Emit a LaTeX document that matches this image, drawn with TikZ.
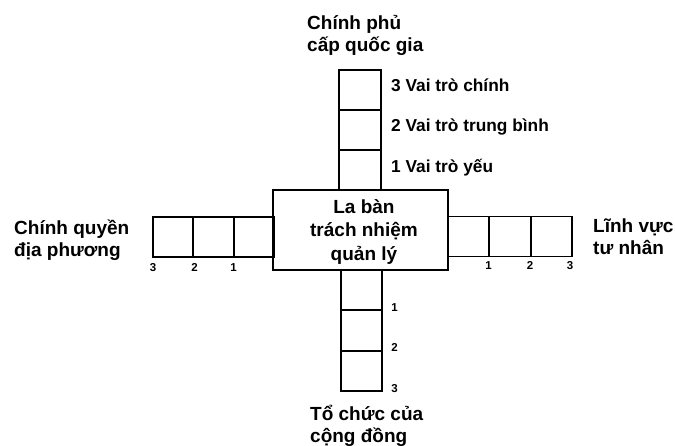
\documentclass[tikz,border=0pt]{standalone}
\usepackage{fontspec}
\setmainfont{Liberation Sans}
\begin{document}
\begin{tikzpicture}[x=1pt,y=-1pt,
  cell/.style={draw, line width=1.8pt, inner sep=0pt},
  vcell/.style={cell, minimum width=42pt, minimum height=40pt},
  hcell/.style={cell, minimum width=40.8pt, minimum height=40pt},
  title/.style={font={\fontsize{19}{22}\selectfont\bfseries}, align=left, inner sep=0pt},
  role/.style={font={\fontsize{17.3}{20}\selectfont\bfseries}, inner sep=0pt, anchor=base west},
  num/.style={font={\fontsize{11.5}{13}\selectfont\bfseries}, inner sep=0pt, anchor=base}]
\useasboundingbox (0,0) rectangle (675,446);
% central box
\node[cell, minimum width=175pt, minimum height=80pt] (compass) at (360.5,230) {};
\node[font={\fontsize{19}{23.5}\selectfont\bfseries}, align=center, inner sep=0pt] (ctext) at (364,232) {La bàn\\trách nhiệm\\quản lý};
% top column
\node[vcell] (t3) at (360,90) {};
\node[vcell] (t2) at (360,130) {};
\node[vcell] (t1) at (360,170) {};
\node[role] (r3) at (391,92) {3 Vai trò chính};
\node[role] (r2) at (391,132) {2 Vai trò trung bình};
\node[role] (r1) at (391,173) {1 Vai trò yếu};
% bottom column
\node[vcell, minimum width=41pt, minimum height=40.3pt] (b1) at (361.5,290.2) {};
\node[vcell, minimum width=41pt, minimum height=40.3pt] (b2) at (361.5,330.5) {};
\node[vcell, minimum width=41pt, minimum height=40.3pt] (b3) at (361.5,370.8) {};
\node[num] (nb1) at (394.5,312) {1};
\node[num] (nb2) at (394.5,352) {2};
\node[num] (nb3) at (394.5,392) {3};
% left row
\node[hcell, minimum width=40.3pt] (l3) at (173.2,237) {};
\node[hcell, minimum width=40.3pt] (l2) at (213.5,237) {};
\node[hcell, minimum width=40.3pt] (l1) at (253.8,237) {};
\node[num] (nl3) at (153,272) {3};
\node[num] (nl2) at (194.5,272) {2};
\node[num] (nl1) at (233.5,272) {1};
% right row
\node[hcell, minimum width=41.3pt] (p1) at (468.7,236.5) {};
\node[hcell, minimum width=41.3pt] (p2) at (510,236.5) {};
\node[hcell, minimum width=41.3pt] (p3) at (551.3,236.5) {};
\node[num] (np1) at (488.5,270) {1};
\node[num] (np2) at (530,270) {2};
\node[num] (np3) at (570,270) {3};
% titles (base = last line)
\node[title, anchor=base west] (nat) at (307,52) {Chính phủ\\cấp quốc gia};
\node[title, anchor=base west] (loc) at (14,257) {Chính quyền\\địa phương};
\node[title, anchor=base west] (pri) at (593,255) {Lĩnh vực\\tư nhân};
\node[title, anchor=base west] (com) at (310,442) {Tổ chức của\\cộng đồng};
\end{tikzpicture}
\end{document}
